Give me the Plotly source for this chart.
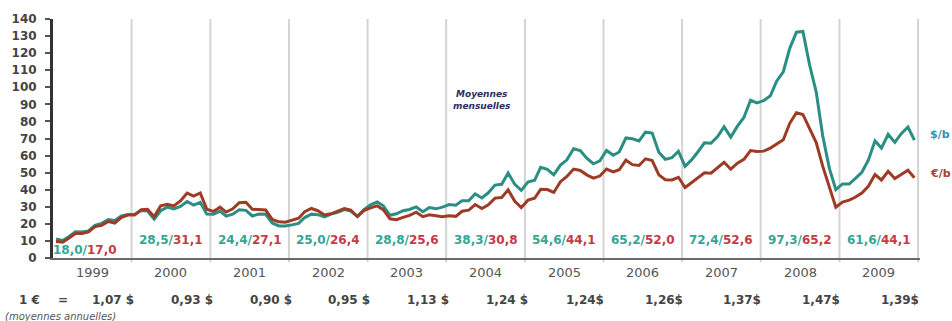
import plotly.graph_objects as go
import pandas as pd

# ---------------- data ----------------
years = list(range(1999, 2010))

usd_per_barrel = [
    11.1, 10.3, 12.5, 15.3, 15.2, 15.9, 19.1, 20.3, 22.5, 22.0, 24.6, 25.5,   # 1999
    25.5, 27.8, 27.5, 22.8, 27.7, 29.8, 28.7, 30.2, 33.1, 31.0, 32.6, 25.7,   # 2000
    25.6, 27.5, 24.5, 25.7, 28.3, 27.9, 24.6, 25.7, 25.6, 20.5, 18.8, 18.7,   # 2001
    19.4, 20.3, 23.7, 25.7, 25.4, 24.1, 25.7, 26.7, 28.4, 27.5, 24.3, 28.3,   # 2002
    31.2, 32.8, 30.6, 25.0, 25.9, 27.7, 28.4, 29.9, 27.1, 29.6, 28.8, 29.8,   # 2003
    31.3, 30.9, 33.6, 33.6, 37.6, 35.2, 38.2, 42.7, 43.2, 49.8, 43.1, 39.6,   # 2004
    44.5, 45.5, 53.1, 51.9, 48.7, 54.4, 57.5, 64.0, 62.9, 58.5, 55.2, 56.9,   # 2005
    63.0, 60.2, 62.1, 70.3, 69.8, 68.6, 73.7, 73.2, 62.0, 57.8, 58.8, 62.5,   # 2006
    53.7, 57.6, 62.1, 67.5, 67.2, 71.1, 76.9, 70.8, 77.2, 82.3, 92.4, 90.9,   # 2007
    92.2, 95.0, 103.6, 109.1, 122.8, 132.3, 132.7, 113.2, 97.2, 71.6, 52.5, 40.0,  # 2008
    43.4, 43.3, 46.5, 50.2, 57.3, 68.6, 64.4, 72.5, 67.7, 72.8, 76.7, 69.0,   # 2009
]

eur_per_barrel = [
    9.6, 9.2, 11.5, 14.3, 14.3, 15.3, 18.4, 19.1, 21.4, 20.5, 23.8, 25.2,     # 1999
    25.2, 28.3, 28.5, 24.1, 30.6, 31.4, 30.5, 33.4, 38.0, 36.3, 38.1, 28.6,   # 2000
    27.3, 29.8, 26.9, 28.8, 32.4, 32.7, 28.6, 28.5, 28.1, 22.6, 21.2, 21.0,   # 2001
    22.0, 23.3, 27.1, 29.0, 27.7, 25.2, 25.9, 27.3, 29.0, 28.0, 24.3, 27.8,   # 2002
    29.4, 30.5, 28.3, 23.0, 22.4, 23.8, 25.0, 26.8, 24.2, 25.3, 24.6, 24.2,   # 2003
    24.8, 24.4, 27.4, 28.0, 31.3, 29.0, 31.1, 35.1, 35.4, 39.9, 33.2, 29.5,   # 2004
    33.9, 35.0, 40.2, 40.1, 38.4, 44.7, 47.8, 52.1, 51.3, 48.7, 46.8, 48.0,   # 2005
    52.1, 50.4, 51.7, 57.3, 54.7, 54.2, 58.1, 57.1, 48.7, 45.8, 45.7, 47.3,   # 2006
    41.3, 44.1, 46.9, 49.9, 49.7, 53.0, 56.1, 52.0, 55.5, 57.8, 62.9, 62.4,   # 2007
    62.6, 64.4, 66.7, 69.3, 78.9, 85.1, 84.1, 75.6, 67.6, 53.8, 41.2, 29.7,   # 2008
    32.8, 33.9, 35.6, 38.1, 42.0, 48.9, 45.7, 50.8, 46.5, 49.1, 51.4, 47.0,   # 2009
]

usd_year_avg = ["18,0", "28,5", "24,4", "25,0", "28,8", "38,3", "54,6", "65,2", "72,4", "97,3", "61,6"]
eur_year_avg = ["17,0", "31,1", "27,1", "26,4", "25,6", "30,8", "44,1", "52,0", "52,6", "65,2", "44,1"]
eur_usd_rate = ["1,07 $", "0,93 $", "0,90 $", "0,95 $", "1,13 $", "1,24 $",
                "1,24$", "1,26$", "1,37$", "1,47$", "1,39$"]

# ---------------- styles ----------------
TEAL_LINE = "#2a8f82"
RED_LINE = "#9e3b24"
TEAL_TXT = "#33a597"
RED_TXT = "#c53a44"
FONT = "DejaVu Sans"

months = pd.date_range("1999-01-01", periods=len(usd_per_barrel), freq="MS") + pd.Timedelta(days=14)

fig = go.Figure()
fig.add_trace(go.Scatter(x=months, y=usd_per_barrel, mode="lines", name="$/b",
                         line=dict(color=TEAL_LINE, width=3), showlegend=False))
fig.add_trace(go.Scatter(x=months, y=eur_per_barrel, mode="lines", name="€/b",
                         line=dict(color=RED_LINE, width=3), showlegend=False))

shapes = []
for yr in years[1:] + [years[-1] + 1]:
    shapes.append(dict(type="line", xref="x", yref="paper",
                       x0=f"{yr}-01-01", x1=f"{yr}-01-01", y0=-0.018, y1=1,
                       line=dict(color="#d4d4d4", width=2), layer="below"))

annotations = []
for i, yr in enumerate(years):
    mid = f"{yr}-07-02"
    # year label
    annotations.append(dict(x=mid, xref="x", y=0, yref="paper", yshift=-14,
                            text=str(yr), showarrow=False, yanchor="middle",
                            font=dict(family=FONT, size=13, color="#555555")))
    # yearly average $/€
    txt = (f"<span style='color:{TEAL_TXT}'>{usd_year_avg[i]}/</span>"
           f"<span style='color:{RED_TXT}'>{eur_year_avg[i]}</span>")
    if i == 0:
        annotations.append(dict(x=mid, xref="x", y=4.6, yref="y", xshift=-7,
                                text=txt, showarrow=False, yanchor="middle",
                                font=dict(family=FONT, size=12, weight="bold")))
    else:
        annotations.append(dict(x=mid, xref="x", y=10.4, yref="y",
                                text=txt, showarrow=False, yanchor="middle",
                                font=dict(family=FONT, size=12, weight="bold")))
    # exchange rate
    annotations.append(dict(x=mid, xref="x", y=0, yref="paper", yshift=-42, xshift=21,
                            text=eur_usd_rate[i], showarrow=False, yanchor="middle",
                            font=dict(family=FONT, size=12, color="#444444", weight="bold")))

annotations += [
    dict(x=0, xref="paper", xanchor="left", xshift=-36, y=0, yref="paper", yshift=-42,
         text="1 €", showarrow=False, yanchor="middle",
         font=dict(family=FONT, size=12, color="#444444", weight="bold")),
    dict(x=0, xref="paper", xanchor="center", xshift=10, y=0, yref="paper", yshift=-42,
         text="=", showarrow=False, yanchor="middle",
         font=dict(family=FONT, size=12, color="#444444", weight="bold")),
    dict(x=0, xref="paper", xanchor="left", xshift=-50, y=0, yref="paper", yshift=-58,
         text="(moyennes annuelles)", showarrow=False, yanchor="middle",
         font=dict(family=FONT, size=10, color="#555555", style="italic")),
    dict(x="2004-06-15", xref="x", y=92.8, yref="y", text="Moyennes<br>mensuelles",
         showarrow=False, yanchor="middle", align="center",
         font=dict(family=FONT, size=9, color="#2e2e5e", weight="bold", style="italic")),
    dict(x=1, xref="paper", xanchor="left", xshift=8, y=72.5, yref="y",
         text="$/b", showarrow=False, yanchor="middle",
         font=dict(family=FONT, size=11, color="#3b8fae", weight="bold")),
    dict(x=1, xref="paper", xanchor="left", xshift=8, y=49.7, yref="y",
         text="€/b", showarrow=False, yanchor="middle",
         font=dict(family=FONT, size=11, color="#a8402e", weight="bold")),
]

fig.update_layout(
    width=952, height=321,
    margin=dict(l=50, r=32, t=13, b=63),
    paper_bgcolor="white", plot_bgcolor="white",
    shapes=shapes, annotations=annotations,
    xaxis=dict(type="date", range=["1999-01-01", "2010-01-10"],
               showgrid=False, zeroline=False, showticklabels=False, ticks="",
               showline=True, linecolor="#6a6a6a", linewidth=2),
    yaxis=dict(range=[0, 140], dtick=10, showgrid=False, zeroline=False,
               showline=True, linecolor="#333333", linewidth=3,
               ticks="outside", ticklen=5, tickwidth=2, tickcolor="#555555",
               ticklabelstandoff=6,
               tickfont=dict(family=FONT, size=12, color="#444444", weight="bold")),
)

fig.write_html("out.html")
